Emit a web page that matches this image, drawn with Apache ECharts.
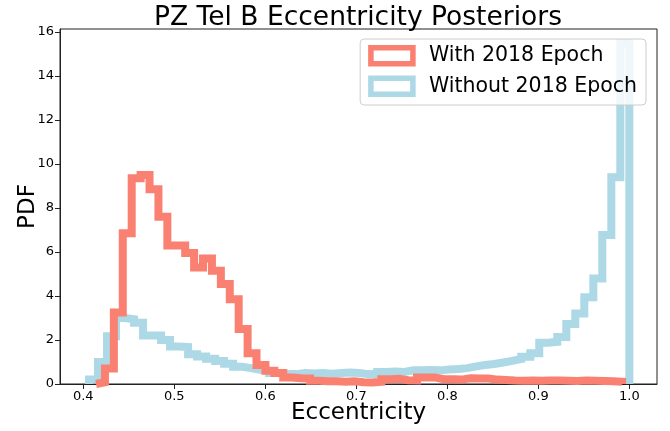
<!DOCTYPE html>
<html>
<head>
<meta charset="utf-8">
<script src="https://cdn.jsdelivr.net/npm/echarts@6/dist/echarts.min.js"></script>
<style>
  html, body { margin: 0; padding: 0; background: #fff; }
  #chart { width: 670px; height: 431px; }
</style>
</head>
<body>
<div id="chart"></div>
<script>
// bin ranges [first edge, last edge]
const withRange = [0.414, 0.992];
const withoutRange = [0.4063, 1.0];

// histogram heights, one per bin
const withValues = [
  0.08, 0.7, 3.25, 6.85, 9.35, 9.5, 8.85, 7.6, 6.3, 6.3,
  5.95, 5.3, 5.7, 5.15, 4.55, 3.85, 2.5, 1.4, 0.86, 0.6,
  0.5, 0.3, 0.26, 0.25, 0.15, 0.12, 0.12, 0.1, 0.12, 0.08,
  0.07, 0.1, 0.22, 0.24, 0.17, 0.16, 0.3, 0.3, 0.22, 0.22,
  0.2, 0.26, 0.25, 0.25, 0.2, 0.18, 0.16, 0.15, 0.16, 0.15,
  0.16, 0.16, 0.15, 0.14, 0.16, 0.15, 0.14, 0.13, 0.1,
];
const withoutValues = [
  0.2, 1.0, 2.17, 3.0, 2.94, 2.78, 2.2, 2.2, 2.0, 1.7,
  1.68, 1.35, 1.25, 1.15, 1.05, 0.92, 0.78, 0.72, 0.65, 0.6,
  0.5, 0.46, 0.45, 0.5, 0.48, 0.5, 0.47, 0.5, 0.52, 0.5,
  0.45, 0.44, 0.55, 0.57, 0.55, 0.62, 0.63, 0.64, 0.62, 0.66,
  0.68, 0.72, 0.8, 0.86, 0.91, 0.98, 1.05, 1.14, 1.24, 1.4,
  1.88, 1.92, 2.14, 2.73, 3.21, 3.94, 4.8, 6.77, 9.4, 15.5,
];

const xTicks = [0.4, 0.5, 0.6, 0.7, 0.8, 0.9, 1.0];
const yTicks = [0, 2, 4, 6, 8, 10, 12, 14, 16];

const FONT = 'DejaVu Sans';

// outline of a step histogram (matplotlib histtype="step")
const stepOutline = ([lo, hi], values) => {
  const w = (hi - lo) / values.length;
  const pts = [[lo, 0]];
  values.forEach((v, i) => {
    pts.push([lo + i * w, v], [lo + (i + 1) * w, v]);
  });
  pts.push([hi, 0]);
  return pts;
};

const stepSeries = (name, color, range, values) => ({
  name,
  type: 'line',
  data: stepOutline(range, values),
  showSymbol: false,
  symbol: 'none',
  animation: false,
  itemStyle: { color },
  lineStyle: { color, width: 8, join: 'miter', cap: 'butt' },
});

const chart = echarts.init(document.getElementById('chart'));

chart.setOption({
  animation: false,
  title: {
    text: 'PZ Tel B Eccentricity Posteriors',
    left: 353,
    textAlign: 'center',
    top: 0,
    textStyle: { fontFamily: FONT, fontSize: 26.5, fontWeight: 'normal', color: '#000' },
  },
  grid: {
    left: 60,
    right: 13,
    top: 29,
    bottom: 47,
    outerBoundsMode: 'none',
    containLabel: false,
    show: true,
    borderColor: '#222',
    borderWidth: 1,
  },
  legend: {
    orient: 'vertical',
    right: 24,
    top: 39,
    icon: 'rect',
    itemWidth: 42,
    itemHeight: 16,
    itemGap: 9,
    padding: [6, 9, 8, 8],
    selectedMode: false,
    backgroundColor: 'rgba(255,255,255,0.8)',
    borderColor: '#cccccc',
    borderWidth: 1,
    borderRadius: 4,
    z: 10,
    textStyle: { fontFamily: FONT, fontSize: 20.5, color: '#000', padding: [0, 0, 0, 11] },
    data: [
      { name: 'With 2018 Epoch', itemStyle: { color: '#fff', borderColor: '#FA8072', borderWidth: 5.5 } },
      { name: 'Without 2018 Epoch', itemStyle: { color: '#fff', borderColor: '#ADD8E6', borderWidth: 5.5 } },
    ],
  },
  xAxis: {
    type: 'value',
    min: 0.3744,
    max: 1.0304,
    name: 'Eccentricity',
    nameLocation: 'middle',
    nameGap: 18,
    nameMoveOverlap: false,
    nameTextStyle: { fontFamily: FONT, fontSize: 23, color: '#000' },
    axisLine: { show: true, lineStyle: { color: '#222' } },
    axisTick: { show: true, length: 5, customValues: xTicks, lineStyle: { color: '#222' } },
    axisLabel: {
      customValues: xTicks,
      formatter: (v) => v.toFixed(1),
      fontFamily: FONT,
      fontSize: 13,
      color: '#000',
      margin: 6,
    },
    splitLine: { show: false },
  },
  yAxis: {
    type: 'value',
    min: 0,
    max: 16.136,
    name: 'PDF',
    nameLocation: 'middle',
    nameGap: 20,
    nameRotate: 90,
    nameMoveOverlap: false,
    nameTextStyle: { fontFamily: FONT, fontSize: 23, color: '#000' },
    axisLine: { show: true, lineStyle: { color: '#222' } },
    axisTick: { show: true, length: 5, customValues: yTicks, lineStyle: { color: '#222' } },
    axisLabel: {
      customValues: yTicks,
      fontFamily: FONT,
      fontSize: 13,
      color: '#000',
      margin: 6,
    },
    splitLine: { show: false },
  },
  series: [
    stepSeries('Without 2018 Epoch', '#ADD8E6', withoutRange, withoutValues),
    stepSeries('With 2018 Epoch', '#FA8072', withRange, withValues),
  ],
});
</script>
</body>
</html>
